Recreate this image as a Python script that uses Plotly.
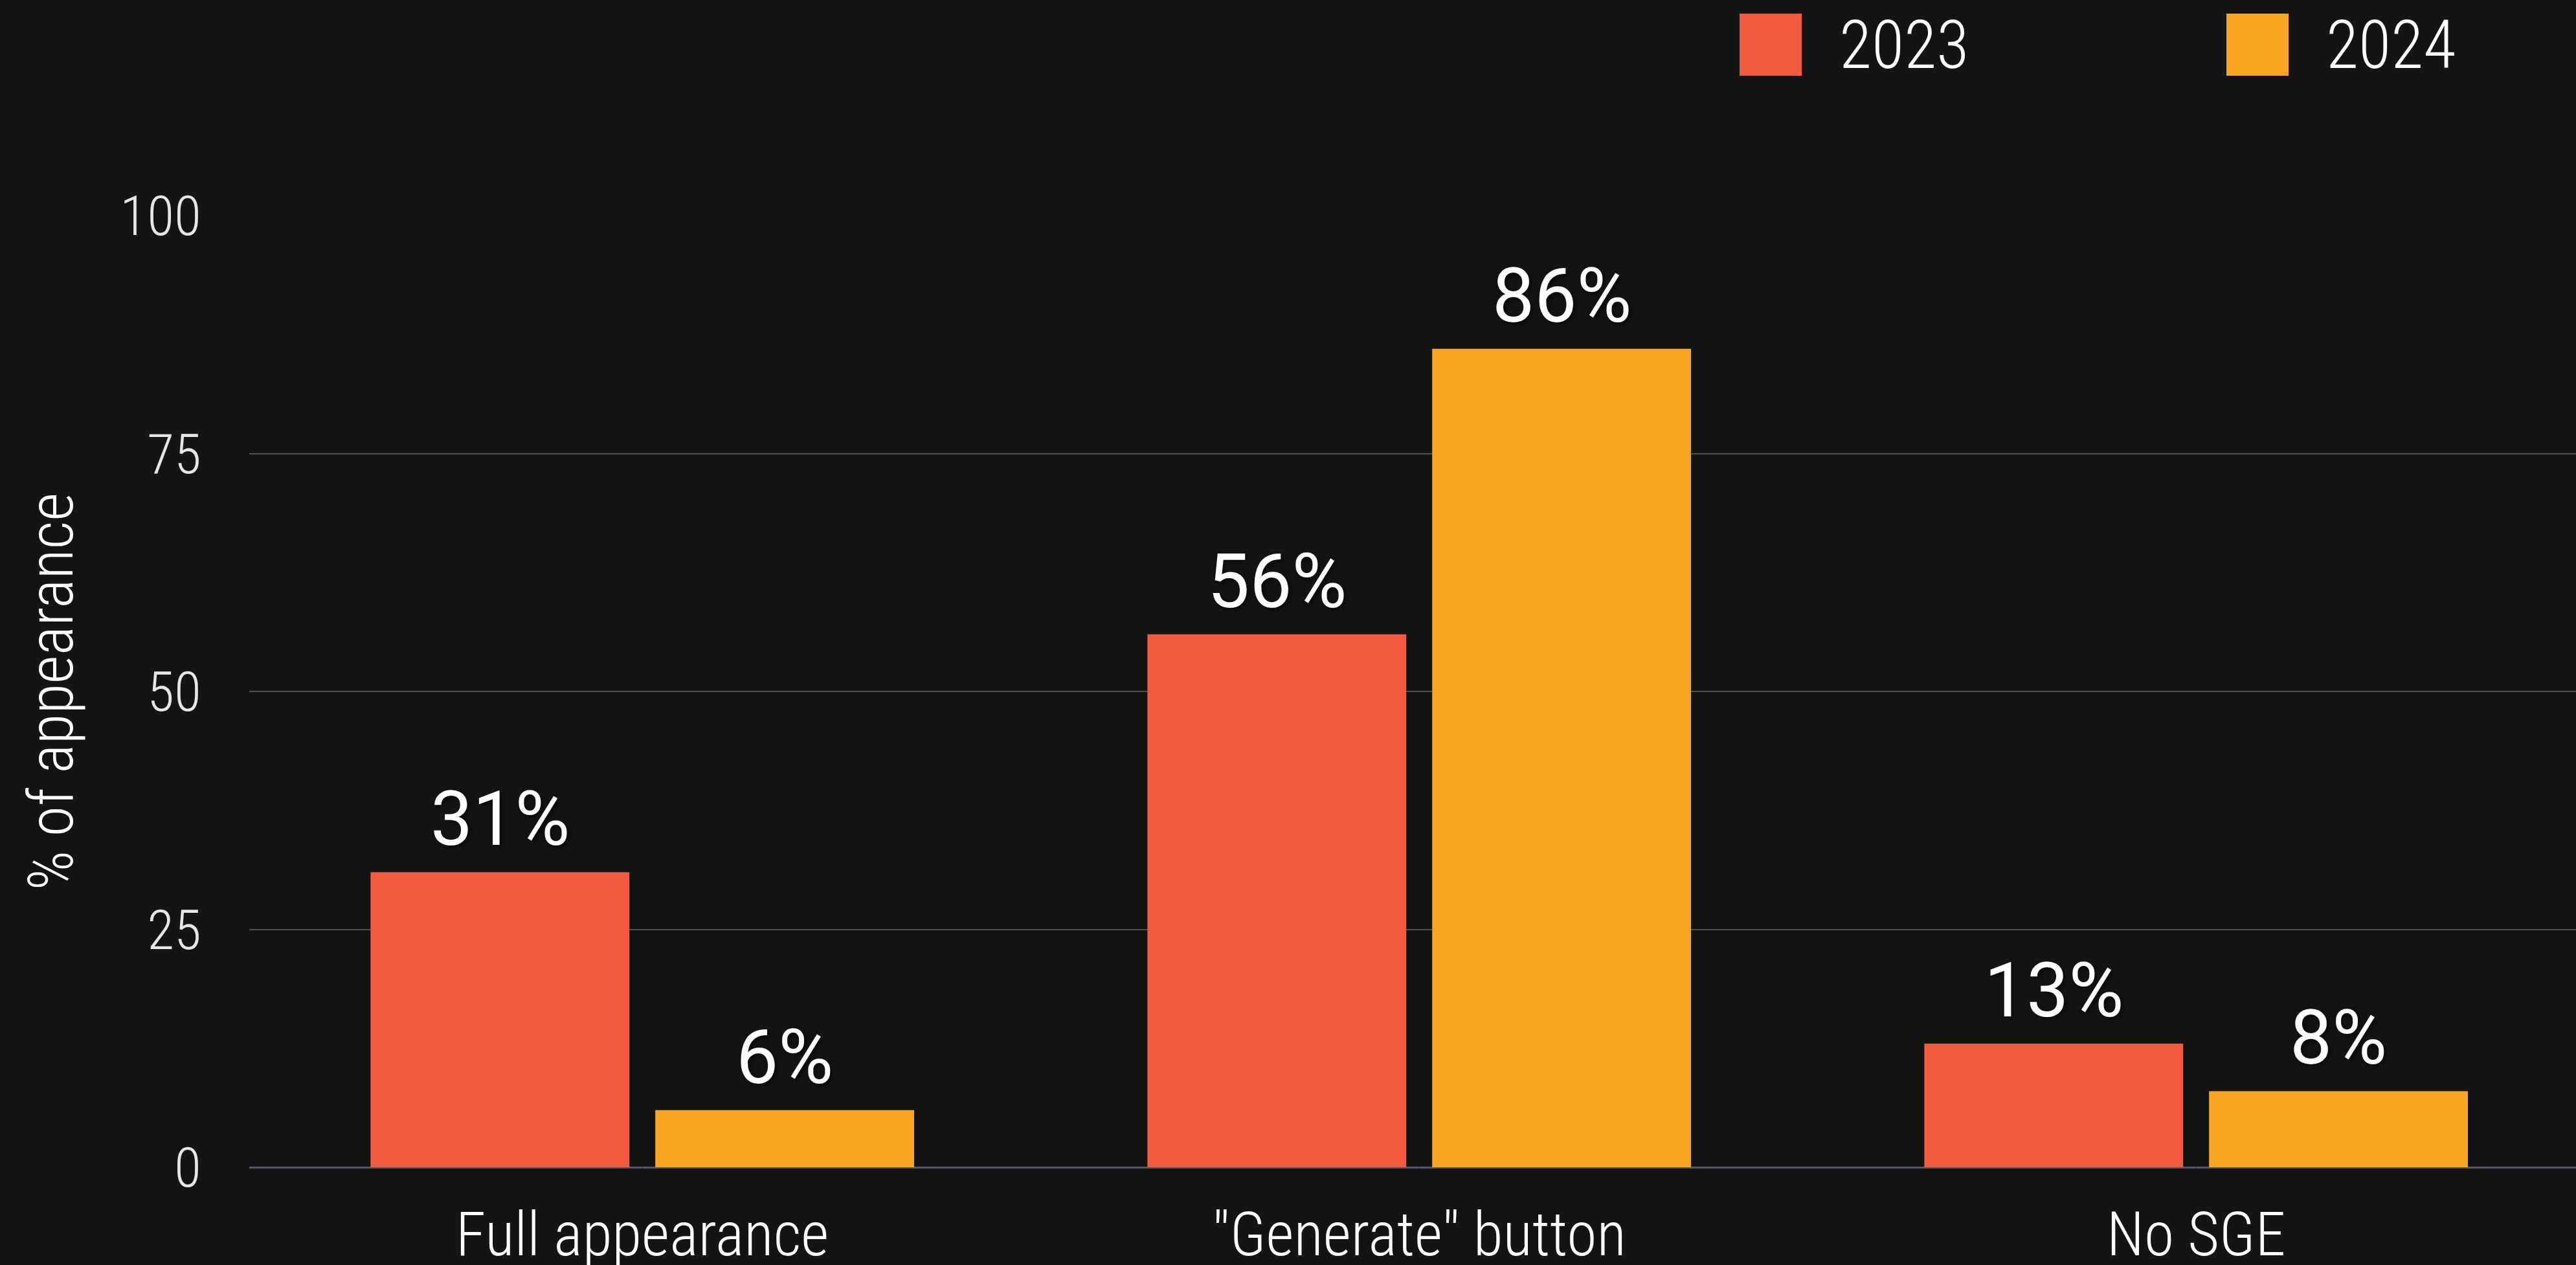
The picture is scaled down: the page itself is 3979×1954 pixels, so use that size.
import plotly.graph_objects as go

# data
categories = ['Full appearance', '"Generate" button', 'No SGE']
years = ['2023', '2024']
values_2023 = [31, 56, 13]
values_2024 = [6, 86, 8]
y_ticks = [0, 25, 50, 75, 100]

colors = {'2023': '#F15B40', '2024': '#F8A621'}
bg = '#141414'
font_family = 'Roboto Condensed, DejaVu Sans Condensed, sans-serif'
label_family = 'Roboto, sans-serif'

W, H = 3979, 1954
margin = dict(l=385, r=0, t=333, b=151)
plot_w = W - margin['l'] - margin['r']
plot_h = H - margin['t'] - margin['b']


def px_x(px):
    return (px - margin['l']) / plot_w


def px_y(py):
    return (H - margin['b'] - py) / plot_h


fig = go.Figure()
for year, vals in zip(years, [values_2023, values_2024]):
    fig.add_trace(go.Bar(x=categories, y=vals, name=year,
                         marker=dict(color=colors[year], line=dict(width=0)),
                         showlegend=False))

# value labels above the bars
for i, (year, vals) in enumerate(zip(years, [values_2023, values_2024])):
    shift = -220 if i == 0 else 220
    for cat, v in zip(categories, vals):
        fig.add_annotation(x=cat, y=v, text='{}%'.format(v), showarrow=False,
                           xshift=shift, yshift=12, yanchor='bottom',
                           font=dict(family=label_family, size=116, weight=400, color='white',
                                     shadow='3px 3px 6px rgba(0,0,0,0.6)'))

# legend drawn by hand so the swatches can be large
legend_items = [('2023', 2687, 2839), ('2024', 3439, 3591)]
for year, sx, tx in legend_items:
    fig.add_shape(type='rect', xref='paper', yref='paper',
                  x0=px_x(sx), x1=px_x(sx + 96), y0=px_y(117), y1=px_y(21),
                  fillcolor=colors[year], line=dict(width=0))
    fig.add_annotation(xref='paper', yref='paper', x=px_x(tx), y=px_y(69),
                       text=year, showarrow=False, xanchor='left', yanchor='middle',
                       font=dict(family=font_family, size=103, weight=300, color='white'))

fig.update_layout(
    width=W, height=H,
    margin=margin,
    paper_bgcolor=bg, plot_bgcolor=bg,
    barmode='group', bargap=0.267, bargroupgap=0.0909,
    font=dict(family=font_family, color='white', weight=300),
)
fig.update_xaxes(range=[-0.506, 2.489], showgrid=False, showline=False, zeroline=False,
                 automargin=False, ticks='outside', ticklen=22, tickcolor=bg,
                 tickfont=dict(family=font_family, size=94, weight=300, color='white'))
fig.update_yaxes(range=[0, 100], tickvals=y_ticks, showgrid=True, gridcolor='#4d5055', gridwidth=2,
                 zeroline=True, zerolinecolor='#55585e', zerolinewidth=3, showline=False,
                 automargin=False, ticks='outside', ticklen=56, tickcolor=bg,
                 tickfont=dict(family=font_family, size=86, weight=300, color='#e6e6e6'),
                 title=dict(text='% of appearance', standoff=40,
                            font=dict(family=font_family, size=96, weight=300, color='white')))

fig.write_html('out.html', config={'displayModeBar': False},
               post_script="document.body.style.margin='0';")
